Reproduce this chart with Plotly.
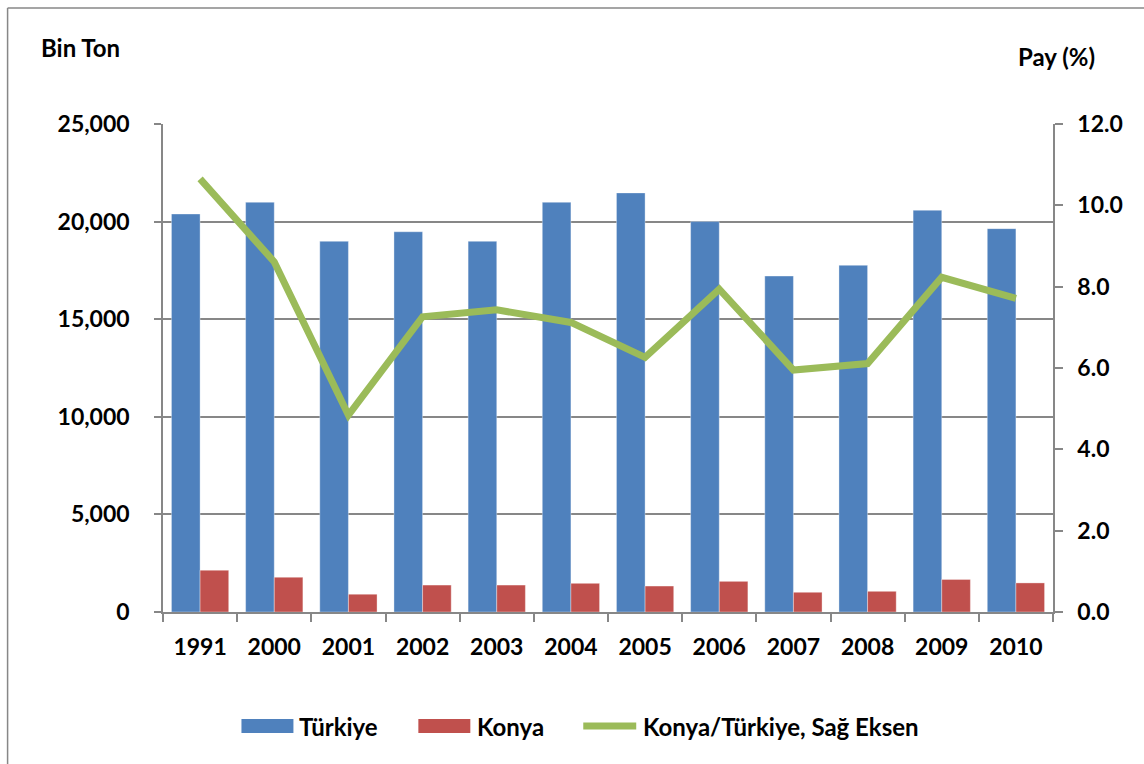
import plotly.graph_objects as go

years = ["1991", "2000", "2001", "2002", "2003", "2004", "2005", "2006", "2007", "2008", "2009", "2010"]
turkiye = [20390, 20990, 18990, 19480, 18990, 20990, 21470, 20000, 17210, 17760, 20580, 19640]
konya = [2140, 1780, 910, 1380, 1380, 1470, 1330, 1570, 1010, 1060, 1670, 1490]
pay = [10.65, 8.61, 4.84, 7.26, 7.43, 7.12, 6.26, 7.94, 5.95, 6.11, 8.23, 7.71]

left_ticks = [0, 5000, 10000, 15000, 20000, 25000]
right_ticks = [0, 2, 4, 6, 8, 10, 12]

BLUE = "#4F81BD"
RED = "#C0504D"
GREEN = "#9BBB59"
GRID = "#878787"
FONT = "Lato"

W, H = 1144, 764
L, R, T, B = 162.5, 1053, 124, 612

fig = go.Figure()
fig.add_trace(go.Bar(x=years, y=turkiye, name="Türkiye", marker=dict(color=BLUE, line=dict(color="rgba(255,255,255,0.35)", width=1)), showlegend=False))
fig.add_trace(go.Bar(x=years, y=konya, name="Konya", marker=dict(color=RED, line=dict(color="rgba(255,255,255,0.35)", width=1)), showlegend=False))
fig.add_trace(go.Scatter(x=years, y=pay, name="Konya/Türkiye, Sağ Eksen", yaxis="y2", mode="lines",
                         line=dict(color=GREEN, width=7), showlegend=False))

tickfont = dict(family=FONT, size=23, color="#000000", weight="bold")

fig.update_layout(
    width=W, height=H,
    margin=dict(l=L, r=W - R, t=T, b=H - B, pad=0),
    paper_bgcolor="white", plot_bgcolor="white",
    barmode="group", bargap=0.228, bargroupgap=0,
    xaxis=dict(type="category", showgrid=False, showline=True, linecolor=GRID, linewidth=1.5,
               ticks="outside", ticklen=8, tickcolor=GRID, tickwidth=1.5, tickson="boundaries",
               tickfont=tickfont, ticklabelstandoff=14),
    yaxis=dict(range=[0, 25000], tickvals=left_ticks, tickformat=",", showgrid=True, gridcolor=GRID, gridwidth=1.5,
               showline=True, linecolor=GRID, linewidth=1.5, ticks="outside", ticklen=7, tickcolor=GRID,
               tickwidth=1.5, tickfont=tickfont, ticklabelstandoff=20, zeroline=False),
    yaxis2=dict(range=[0, 12], tickvals=right_ticks, tickformat=".1f", overlaying="y", side="right",
                showgrid=False, showline=True, linecolor=GRID, linewidth=1.5, ticks="outside", ticklen=8,
                tickcolor=GRID, tickwidth=1.5, tickfont=tickfont, ticklabelstandoff=10, zeroline=False),
)

pw, ph = R - L, B - T


def px(x):
    return (x - L) / pw


def py(y):
    return (B - y) / ph


shapes = []
# outer chart border
shapes.append(dict(type="line", xref="paper", yref="paper", x0=px(7), x1=px(W + 5), y0=py(8), y1=py(8),
                   line=dict(color=GRID, width=1.5)))
shapes.append(dict(type="line", xref="paper", yref="paper", x0=px(7), x1=px(7), y0=py(8), y1=py(H + 5),
                   line=dict(color=GRID, width=1.5)))

# legend swatches
ly = 726
shapes.append(dict(type="rect", xref="paper", yref="paper", x0=px(241), x1=px(293), y0=py(733), y1=py(719),
                   fillcolor=BLUE, line=dict(width=0)))
shapes.append(dict(type="rect", xref="paper", yref="paper", x0=px(418), x1=px(470), y0=py(733), y1=py(719),
                   fillcolor=RED, line=dict(width=0)))
shapes.append(dict(type="line", xref="paper", yref="paper", x0=px(583), x1=px(636), y0=py(ly), y1=py(ly),
                   line=dict(color=GREEN, width=7)))
fig.update_layout(shapes=shapes)

lfont = dict(family=FONT, size=24, color="#000000", weight="bold")
annotations = [
    dict(text="Türkiye", x=px(297), y=py(ly), xanchor="left", yanchor="middle"),
    dict(text="Konya", x=px(475), y=py(ly), xanchor="left", yanchor="middle"),
    dict(text="Konya/Türkiye, Sağ Eksen", x=px(641), y=py(ly), xanchor="left", yanchor="middle"),
    dict(text="Bin Ton", x=px(38), y=py(48), xanchor="left", yanchor="middle"),
    dict(text="Pay (%)", x=px(1016), y=py(57), xanchor="left", yanchor="middle"),
]
for a in annotations:
    a.update(xref="paper", yref="paper", showarrow=False, font=lfont)
fig.update_layout(annotations=annotations)

fig.write_html("out.html", config={"displayModeBar": False},
               post_script="document.body.style.margin='0';document.body.style.overflow='hidden';")
